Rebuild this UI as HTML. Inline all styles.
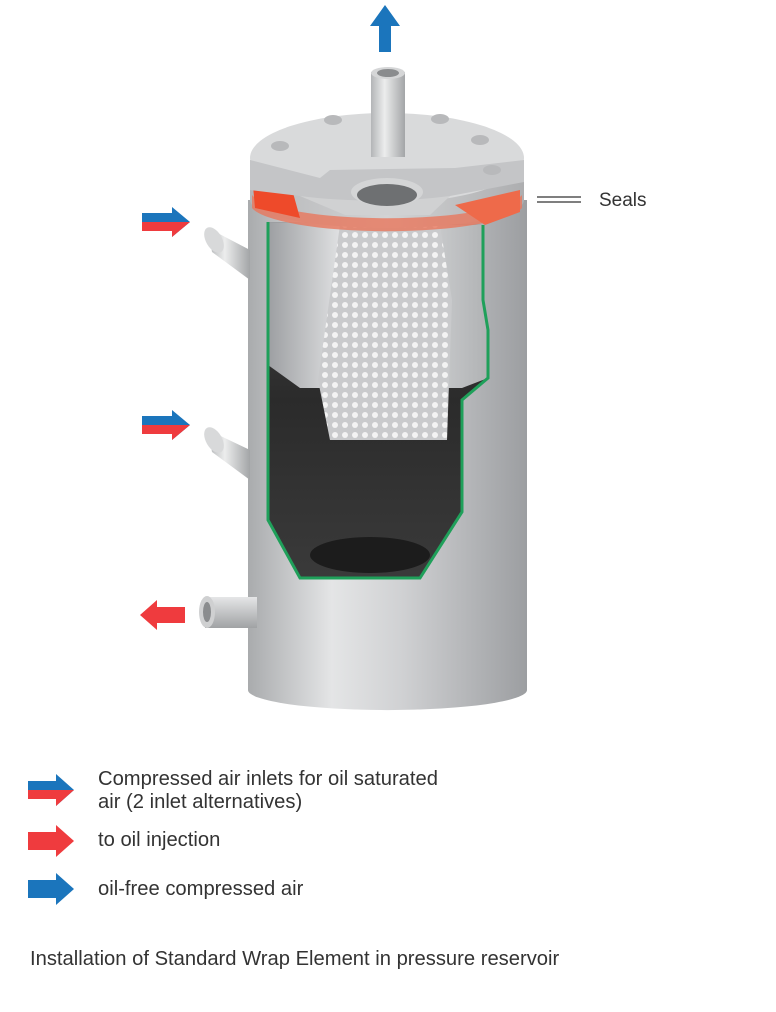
<!DOCTYPE html>
<html><head><meta charset="utf-8"><style>
body{margin:0;background:#fff;width:776px;height:1012px;overflow:hidden;font-family:"Liberation Sans",sans-serif;}
.t{position:absolute;color:#333;font-size:20.2px;line-height:23px;}
</style></head><body>
<svg width="776" height="1012" style="position:absolute;left:0;top:0">
<defs>
<linearGradient id="cyl" x1="0" x2="1"><stop offset="0" stop-color="#a9abad"/><stop offset="0.3" stop-color="#e4e5e6"/><stop offset="0.55" stop-color="#d0d1d3"/><stop offset="1" stop-color="#9c9ea1"/></linearGradient>
<linearGradient id="pipe" x1="0" x2="1"><stop offset="0" stop-color="#b3b5b7"/><stop offset="0.4" stop-color="#eceded"/><stop offset="1" stop-color="#a3a5a7"/></linearGradient>
<linearGradient id="pipev" x1="0" y1="0" x2="0" y2="1"><stop offset="0" stop-color="#e5e6e7"/><stop offset="1" stop-color="#a0a2a4"/></linearGradient>
<linearGradient id="inner" x1="0" x2="1"><stop offset="0" stop-color="#9d9fa2"/><stop offset="0.4" stop-color="#eeeff0"/><stop offset="1" stop-color="#b0b2b4"/></linearGradient>
<linearGradient id="dark" x1="0" y1="0" x2="0" y2="1"><stop offset="0" stop-color="#4a4a4a"/><stop offset="0.5" stop-color="#2b2b2b"/><stop offset="1" stop-color="#3a3a3a"/></linearGradient>
<linearGradient id="capg" x1="0" x2="1"><stop offset="0" stop-color="#b5b6b8"/><stop offset="0.5" stop-color="#d2d3d4"/><stop offset="1" stop-color="#adaeb0"/></linearGradient>
<pattern id="holes" width="10" height="10" patternUnits="userSpaceOnUse"><rect width="10" height="10" fill="#c9cacc"/><circle cx="5" cy="5" r="3" fill="#f3f3f3"/></pattern>
</defs>
<path d="M248 200 L248 690 A139 20 0 0 0 527 690 L527 200 Z" fill="url(#cyl)"/>
<path d="M208 228 L250 250 L250 280 L212 252 Z" fill="url(#pipe)"/>
<ellipse cx="214" cy="240" rx="8" ry="14" fill="#d8d9da" transform="rotate(-30 214 240)"/>
<path d="M208 430 L250 450 L250 480 L212 452 Z" fill="url(#pipe)"/>
<ellipse cx="214" cy="440" rx="8" ry="14" fill="#d8d9da" transform="rotate(-30 214 440)"/>
<rect x="205" y="597" width="52" height="31" fill="url(#pipev)"/>
<ellipse cx="207" cy="612" rx="8" ry="16" fill="#cfd0d1"/>
<ellipse cx="207" cy="612" rx="4" ry="10" fill="#8a8c8e"/>
<path d="M268 222 L268 520 L300 578 L420 578 L462 512 L462 400 L488 378 L488 330 L483 300 L483 225 Z" fill="url(#dark)"/>
<path d="M268 222 L268 365 L300 388 L462 388 L488 378 L488 330 L483 300 L483 225 Z" fill="url(#inner)"/>
<path d="M340 225 L440 225 L452 300 L447 440 L330 440 L318 380 Z" fill="url(#holes)"/>
<path d="M268 222 L268 520 L300 578 L420 578 L462 512 L462 400 L488 378 L488 330 L483 300 L483 225" fill="none" stroke="#1fa05a" stroke-width="3"/>
<ellipse cx="370" cy="555" rx="60" ry="18" fill="#1c1c1c"/>
<path d="M250 160 L250 200 A137 28 0 0 0 524 200 L524 160 Z" fill="url(#capg)"/>
<path d="M252 195 A137 28 0 0 0 522 195 L522 208 A137 28 0 0 1 252 208 Z" fill="#e8775c" opacity="0.8"/>
<path d="M252 175 L290 182 L300 218 L255 208 Z" fill="#ee4a2a"/>
<path d="M455 205 L520 190 L520 212 L485 225 Z" fill="#ee6a4a"/>
<ellipse cx="387" cy="158" rx="137" ry="45" fill="#d9dadb"/>
<path d="M250 160 L320 178 L330 170 L455 168 L524 160 L524 182 L450 196 L430 215 L345 215 L300 196 L250 190 Z" fill="#c4c5c7"/>
<path d="M300 196 L345 215 L430 215 L450 196 A137 28 0 0 1 300 196 Z" fill="#d0d1d2"/>
<ellipse cx="387" cy="192" rx="36" ry="14" fill="#d4d5d6"/>
<ellipse cx="387" cy="195" rx="30" ry="11" fill="#6e7072"/>
<g fill="#b8b9bb"><ellipse cx="280" cy="146" rx="9" ry="5"/><ellipse cx="333" cy="120" rx="9" ry="5"/><ellipse cx="440" cy="119" rx="9" ry="5"/><ellipse cx="480" cy="140" rx="9" ry="5"/><ellipse cx="492" cy="170" rx="9" ry="5"/></g>
<rect x="371" y="72" width="34" height="85" fill="url(#pipe)"/>
<ellipse cx="388" cy="73" rx="17" ry="6" fill="#d5d6d7"/><ellipse cx="388" cy="73" rx="11" ry="4" fill="#8a8c8e"/>
<polygon points="379,52 379,26 370,26 385,5 400,26 391,26 391,52" fill="#1b75bc"/>
<polygon points="142,213 172,213 172,207 190,222 172,237 172,231 142,231" fill="#1b75bc"/>
<polygon points="142,222 190,222 172,237 172,231 142,231" fill="#ef3b3e"/>
<polygon points="142,416 172,416 172,410 190,425 172,440 172,434 142,434" fill="#1b75bc"/>
<polygon points="142,425 190,425 172,440 172,434 142,434" fill="#ef3b3e"/>
<polygon points="185,607 157,607 157,600 140,615 157,630 157,623 185,623" fill="#ef3b3e"/>
<line x1="537" y1="197" x2="581" y2="197" stroke="#333" stroke-width="1.2"/>
<line x1="537" y1="202" x2="581" y2="202" stroke="#333" stroke-width="1.2"/>
<polygon points="28,781 56,781 56,774 74,790 56,806 56,799 28,799" fill="#1b75bc"/>
<polygon points="28,790 74,790 56,806 56,799 28,799" fill="#ef3b3e"/>
<polygon points="28,832 56,832 56,825 74,841 56,857 56,850 28,850" fill="#ef3b3e"/>
<polygon points="28,880 56,880 56,873 74,889 56,905 56,898 28,898" fill="#1b75bc"/>
</svg>
<div class="t" style="left:599px;top:189px;font-size:19px">Seals</div>
<div class="t" style="left:98px;top:768px">Compressed air inlets for oil saturated<br>air (2 inlet alternatives)</div>
<div class="t" style="left:98px;top:829px">to oil injection</div>
<div class="t" style="left:98px;top:878px">oil-free compressed air</div>
<div class="t" style="left:30px;top:948px">Installation of Standard Wrap Element in pressure reservoir</div>
</body></html>
